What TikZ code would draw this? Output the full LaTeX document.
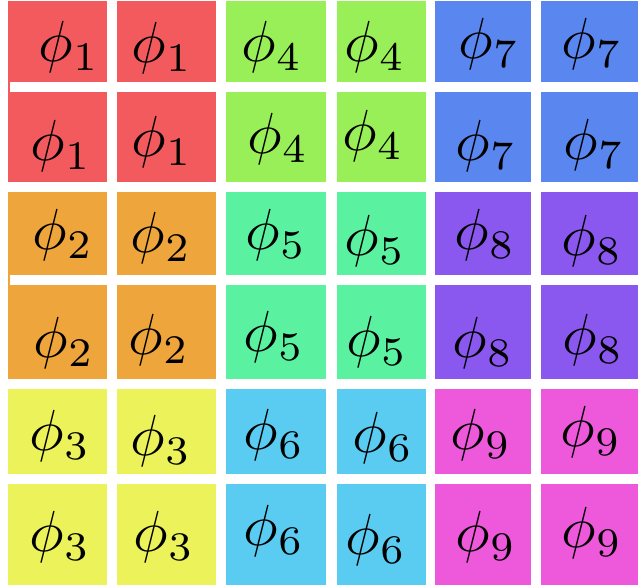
\documentclass[tikz,border=0pt]{standalone}
\definecolor{c1}{HTML}{F25A5E}
\definecolor{c2}{HTML}{EEA53B}
\definecolor{c3}{HTML}{EBF25A}
\definecolor{c4}{HTML}{98EF58}
\definecolor{c5}{HTML}{5AF2A0}
\definecolor{c6}{HTML}{5ACBF1}
\definecolor{c7}{HTML}{5A86EF}
\definecolor{c8}{HTML}{8A58EE}
\definecolor{c9}{HTML}{EE58DB}
\begin{document}
\begin{tikzpicture}[x=1pt,y=-1pt,
  lab/.style={inner sep=0pt, scale=5.8}]
\useasboundingbox (0,0) rectangle (638,587);
\fill[white] (0,0) rectangle (638,587);
% cells
\foreach \r/\ya/\yb/\g in {1/1/82/1,2/92/182/1,3/192/275/2,4/285/379/2,5/389/474/3,6/484/585/3}{
  \foreach \c/\xa/\xb/\h in {1/8/107/0,2/117/216/0,3/226/326/1,4/337/426/1,5/435/531/2,6/541/638/2}{
    \pgfmathtruncatemacro\k{\g+3*\h}
    \fill[c\k] (\xa,\ya) rectangle (\xb,\yb);
  }
}
% small joining strips in the first column
\fill[c1] (8,82) rectangle (10,92);
\fill[c2] (8,275) rectangle (10,285);
% labels
\foreach \r/\g/\list in {
  1/1/{69/47,162/48,272/47,375/47,489/44,592/44},
  2/1/{61/146,162/142,278/139,373/136,486/146,594/145},
  3/2/{63/235,161/238,276/235,375/241,485/235,592/241},
  4/2/{64/343,159/340,274/337,377/342,483/343,593/340},
  5/3/{60/436,161/441,274/435,383/438,481/435,591/432},
  6/3/{60/537,164/537,274/531,376/540,486/537,592/533}}{
  \foreach \lx/\ly [count=\c] in \list {
    \pgfmathtruncatemacro\k{\g+3*int((\c-1)/2)}
    \node[lab] (lab-\r-\c) at (\lx,\ly) {$\phi_{\k}$};
  }
}
\end{tikzpicture}
\end{document}
